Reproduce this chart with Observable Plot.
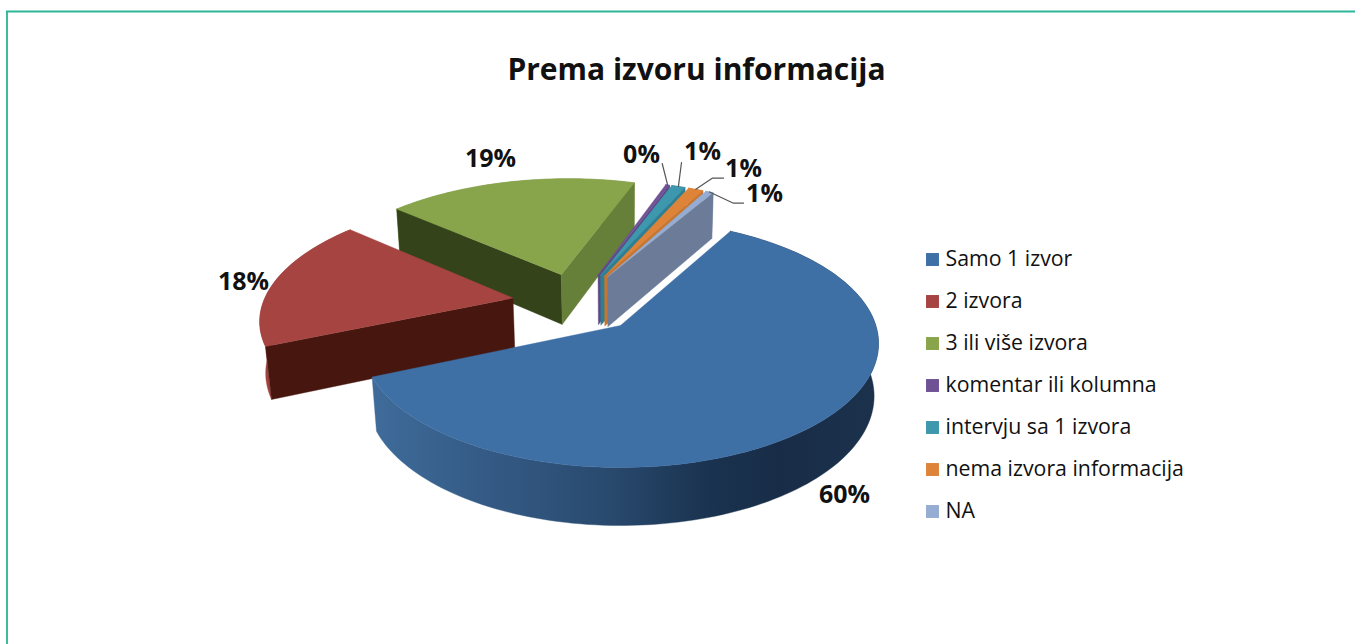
<!DOCTYPE html>
<html><head><meta charset="utf-8">
<script src="https://cdn.jsdelivr.net/npm/d3@7"></script>
<script src="https://cdn.jsdelivr.net/npm/@observablehq/plot@0.6"></script>
<style>html,body{margin:0;padding:0;background:#fff;overflow:hidden}svg{display:block}</style>
</head><body><div id="chart"></div>
<script>
const categories = ["Samo 1 izvor","2 izvora","3 ili više izvora","komentar ili kolumna","intervju sa 1 izvora","nema izvora informacija","NA"];
const shares = [60.4,17.9,18.6,0.3,1.05,1.15,0.6];
const topColors = ["#3e70a6","#a64442","#88a54b","#6f5295","#3d97ad","#dd8439","#95add2"];
const wallColors = ["url(#blueWall)","#9c4240","#7d9845","#5f4780","#357f93","#c4752f","#7f90b0"];
const faceColors = ["#2a4a6e","#47170f","#35431b","#5b4a82","#2f7f93","#c8752f","#6b7b98"];
const endFaceColors = ["#2a4a6e","#47170f","#66803a","#5b4a82","#2f7f93","#c8752f","#6b7b98"];
const sliceRadius = [1,1.005,1.02,1,1,1,1];
const paintOrder = [2,3,4,5,6,1,0];
const labelAnchors = [[844,494],[243,281],[490,158],[641,154],[702,151],[743,168],[764,193]];

// pie camera
const startAngle = 29, explode = 0.262;
const P = {cx:620, cy:325, a:255.3, b:121.4, k:0.145, m:0.017, depth:53};
const rad = d => d*Math.PI/180;
const project = (u,v,z) => {
  const w = 1 + P.k*v + P.m*z;
  return {x:P.cx + P.a*u/w, y:P.cy + (-P.b*v + P.depth*z)/w};
};
let acc = startAngle;
const slices = shares.map((s,i) => {
  const a0 = acc, a1 = acc + s*3.6; acc = a1;
  const mid = (a0+a1)/2;
  return {i,a0,a1,mid,radius:sliceRadius[i]};
});
const centre = {u:-explode*Math.sin(rad(slices[0].mid)), v:-explode*Math.cos(rad(slices[0].mid))};
slices.forEach(s => {
  s.u = centre.u + explode*Math.sin(rad(s.mid));
  s.v = centre.v + explode*Math.cos(rad(s.mid));
  const n = Math.max(3, Math.ceil((s.a1-s.a0)/1.5));
  s.rim = d3.range(n+1).map(j => {
    const t = rad(s.a0 + (s.a1-s.a0)*j/n);
    return {u:s.u+s.radius*Math.sin(t), v:s.v+s.radius*Math.cos(t)};
  });
});
const poly = (pts, fill) => {
  const closed = [...pts, pts[0]];
  return Plot.line(closed, {x:"x", y:"y", fill, stroke:fill, strokeWidth:0.4, curve:"linear"});
};
const marks = [];
marks.push(() => {
  const ns = "http://www.w3.org/2000/svg";
  const defs = document.createElementNS(ns,"defs");
  const g = document.createElementNS(ns,"linearGradient");
  g.setAttribute("id","blueWall");
  g.setAttribute("gradientUnits","userSpaceOnUse");
  g.setAttribute("x1",373); g.setAttribute("x2",879); g.setAttribute("y1",0); g.setAttribute("y2",0);
  [[0,"#3f6b9a"],[0.2,"#355c87"],[0.45,"#2a4b70"],[0.66,"#1a3350"],[0.8,"#182c47"],[1,"#1c324c"]].forEach(([o,c]) => {
    const st = document.createElementNS(ns,"stop");
    st.setAttribute("offset",o); st.setAttribute("stop-color",c); g.appendChild(st);
  });
  defs.appendChild(g);
  return defs;
});
for (const i of paintOrder) {
  const s = slices[i];
  const top = s.rim.map(p => project(p.u,p.v,0));
  const bottom = s.rim.map(p => project(p.u,p.v,1)).reverse();
  marks.push(poly([...top,...bottom], wallColors[i]));
  const a = {u:s.u,v:s.v}, r0 = s.rim[0], r1 = s.rim[s.rim.length-1];
  if (i !== 0) {
    if (i === 1 || i === 2) marks.push(poly([project(a.u,a.v,0),project(r0.u,r0.v,0),project(r0.u,r0.v,1),project(a.u,a.v,1)], faceColors[i]));
    if (i >= 2) marks.push(poly([project(a.u,a.v,0),project(r1.u,r1.v,0),project(r1.u,r1.v,1),project(a.u,a.v,1)], endFaceColors[i]));
  }
  marks.push(poly([project(a.u,a.v,0),...top], topColors[i]));
}
// leader lines
const labelled = [3,4,5,6];
const bends = {3:[[661.7,163]],4:[[681,162]],5:[[711.7,177.7],[723,177.7]],6:[[733,202.7],[743,202.7]]};
for (const i of labelled) {
  const s = slices[i];
  const t = rad(s.mid);
  const start = project(s.u+s.radius*Math.sin(t), s.v+s.radius*Math.cos(t), 0);
  const pts = [start, ...bends[i].map(([x,y]) => ({x,y}))];
  marks.push(Plot.line(pts,{x:"x",y:"y",stroke:"#555",strokeWidth:1.2}));
}
const pctFormat = d3.format(".0f");
const labelData = shares.map((v,i) => ({t:pctFormat(v)+"%", x:labelAnchors[i][0], y:labelAnchors[i][1]}));
marks.push(Plot.text(labelData,{x:"x",y:"y",text:"t",fontSize:25,fontWeight:700,fontFamily:"Open Sans",fill:"#111"}));
// title
marks.push(Plot.text(["Prema izvoru informacija"],{x:()=>696,y:()=>70,text:d=>d,fontSize:30,fontWeight:700,fontFamily:"Open Sans",fill:"#111"}));
// legend
const legendRows = categories.map((c,i) => ({c,i,y:259+42*i}));
marks.push(Plot.dot(legendRows,{x:()=>932,y:"y",symbol:"square",r:7.3,fill:(d)=>topColors[d.i],stroke:"none"}));
marks.push(Plot.text(legendRows,{x:()=>945,y:"y",text:"c",textAnchor:"start",fontSize:21.3,fontFamily:"Open Sans",fill:"#111"}));
// frame
marks.push(Plot.ruleX([6.5],{y1:11,y2:644,stroke:"#3fbaa0",strokeWidth:2}));
marks.push(Plot.ruleY([11],{x1:6,x2:1355,stroke:"#2fb59a",strokeWidth:2}));

const chart = Plot.plot({
  width:1355,height:644,margin:0,
  x:{domain:[0,1355],range:[0,1355],axis:null},
  y:{domain:[0,644],range:[0,644],axis:null},
  color:{type:"identity"},
  marks
});
document.getElementById("chart").appendChild(chart);
</script></body></html>
